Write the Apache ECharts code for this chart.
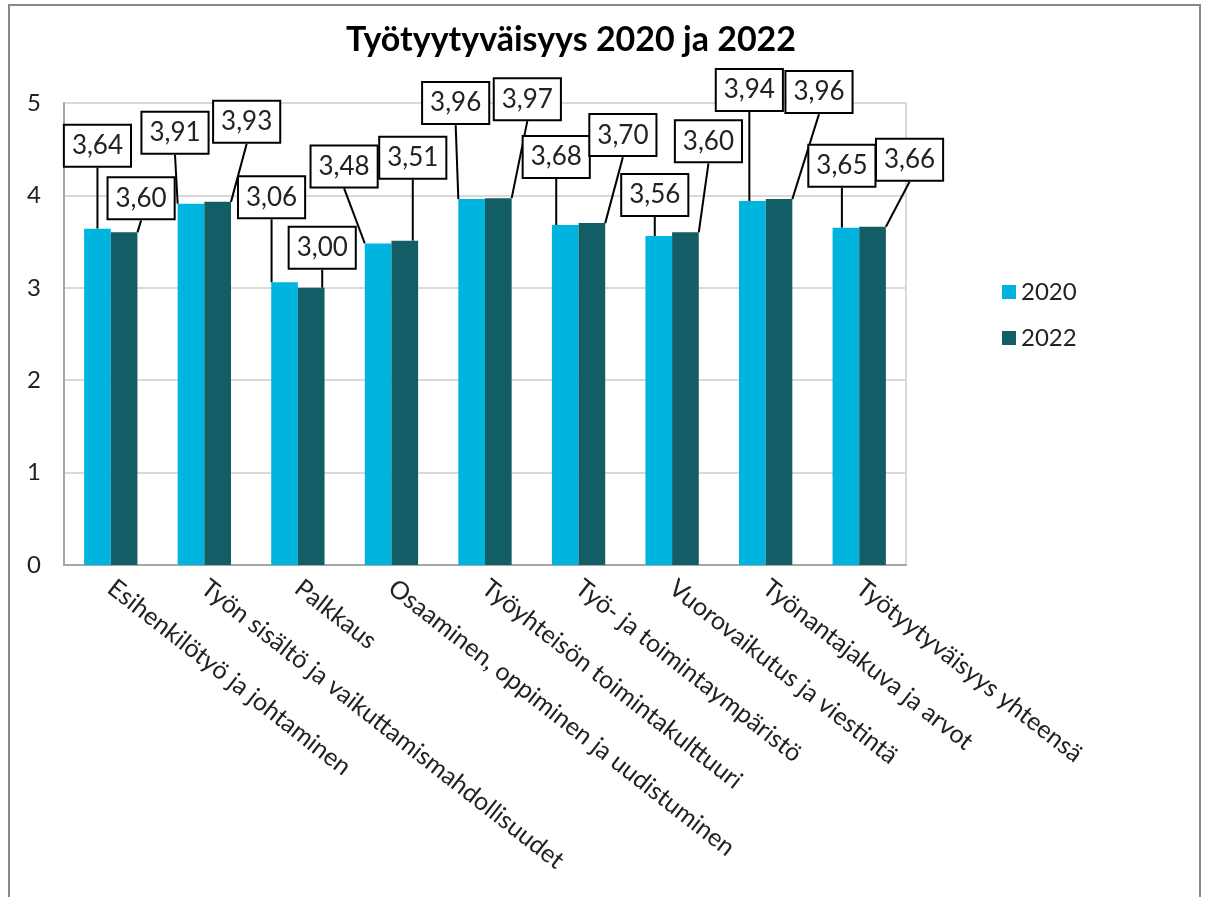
<!DOCTYPE html>
<html>
<head>
<meta charset="utf-8">
<script src="https://cdn.jsdelivr.net/npm/echarts@6/dist/echarts.min.js"></script>
<style>html,body{margin:0;padding:0;background:#fff;}#c{width:1211px;height:897px;}</style>
</head>
<body>
<div id="c"></div>
<script>
const categories = [
  'Esihenkilötyö ja johtaminen',
  'Työn sisältö ja vaikuttamismahdollisuudet',
  'Palkkaus',
  'Osaaminen, oppiminen ja uudistuminen',
  'Työyhteisön toimintakulttuuri',
  'Työ- ja toimintaympäristö',
  'Vuorovaikutus ja viestintä',
  'Työnantajakuva ja arvot',
  'Työtyytyväisyys yhteensä'
];
const values2020 = [3.64, 3.91, 3.06, 3.48, 3.96, 3.68, 3.56, 3.94, 3.65];
const values2022 = [3.60, 3.93, 3.00, 3.51, 3.97, 3.70, 3.60, 3.96, 3.66];
const seriesNames = ['2020', '2022'];
const yTicks = [0, 1, 2, 3, 4, 5];

// label callout offsets (box centre relative to bar top centre), layout only
const labelOffsets = [
  [[0,-83],[-16,-71],[-13,-85],[-34,-77],[-16,-96],[-9,-68],[-4,-41],[-3,-111],[-4,-62]],
  [[17,-34],[29,-80],[11,-40],[8,-83],[29,-99],[31,-88],[23,-91],[40,-107],[37,-67]]
];
const colors = ['#00B4E0', '#135E66'];
const FONT = 'Lato';

const chart = echarts.init(document.getElementById('c'), null, {renderer: 'canvas'});

function makeSeries(idx, data) {
  return {
    name: seriesNames[idx],
    type: 'bar',
    data: data,
    barGap: '0%',
    barCategoryGap: '43%',
    itemStyle: {color: colors[idx]},
    label: {
      show: true,
      position: 'top',
      formatter: p => p.value.toFixed(2).replace('.', ','),
      fontFamily: FONT,
      fontSize: 26,
      color: '#222',
      backgroundColor: '#fff',
      borderColor: '#000',
      borderWidth: 2,
      padding: [5, 7, 5, 7],
      lineHeight: 30
    },
    labelLine: {show: true, lineStyle: {color: '#000', width: 2}},
    labelLayout: function (p) {
      const o = labelOffsets[idx][p.dataIndex];
      return {
        x: p.rect.x + p.rect.width / 2 + o[0],
        y: p.rect.y + o[1],
        align: 'center',
        verticalAlign: 'middle'
      };
    }
  };
}

chart.setOption({
  animation: false,
  title: {
    text: 'Työtyytyväisyys 2020 ja 2022',
    left: 566, top: 18, textAlign: 'center',
    textStyle: {fontFamily: FONT, fontWeight: 'bold', fontSize: 34, color: '#000'}
  },
  legend: {
    orient: 'vertical',
    left: 997, top: 275,
    itemWidth: 14, itemHeight: 14, itemGap: 22,
    icon: 'rect',
    textStyle: {fontFamily: FONT, fontSize: 24, color: '#222'},
    data: seriesNames
  },
  grid: {left: 64, right: 305, top: 103, bottom: 332, show: true, borderColor: '#d9d9d9', borderWidth: 2},
  xAxis: {
    type: 'category',
    data: categories,
    axisTick: {show: false},
    axisLine: {lineStyle: {color: '#a6a6a6', width: 2}},
    axisLabel: {
      interval: 0, rotate: -38, margin: 20,
      fontFamily: FONT, fontSize: 25, color: '#222'
    }
  },
  yAxis: {
    type: 'value',
    min: yTicks[0], max: yTicks[yTicks.length - 1], interval: 1,
    axisLine: {show: true, lineStyle: {color: '#a6a6a6', width: 2}},
    axisTick: {show: false},
    splitLine: {lineStyle: {color: '#d9d9d9', width: 2}},
    axisLabel: {fontFamily: FONT, fontSize: 24, color: '#222', margin: 23}
  },
  graphic: [{
    type: 'rect', silent: true, z: -1,
    shape: {x: 9, y: 5, width: 1191, height: 920},
    style: {fill: 'none', stroke: '#888', lineWidth: 2}
  }],
  series: [makeSeries(0, values2020), makeSeries(1, values2022)]
});
</script>
</body>
</html>
